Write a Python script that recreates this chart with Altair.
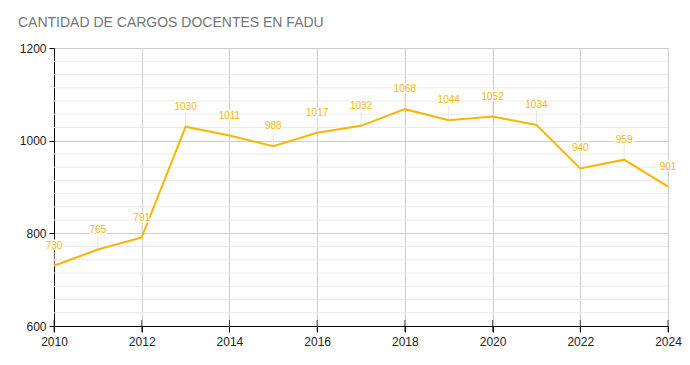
import altair as alt
import pandas as pd

years = [2010, 2011, 2012, 2013, 2014, 2015, 2016, 2017, 2018, 2019, 2020, 2021, 2022, 2023, 2024]
cargos = [730, 765, 791, 1030, 1011, 988, 1017, 1032, 1068, 1044, 1052, 1034, 940, 959, 901]
x_ticks = [2010, 2012, 2014, 2016, 2018, 2020, 2022, 2024]
y_major = [600, 800, 1000, 1200]
y_minor = [600 + (i * 200) / 7 for i in range(22) if i % 7 != 0]

df = pd.DataFrame({"year": years, "cargos": cargos})
tick_df = pd.DataFrame({"year": x_ticks})
minor_df = pd.DataFrame({"v": y_minor})

GOLD = "#F9B600"
FONT = "Liberation Sans"

x = alt.X("year:Q", scale=alt.Scale(domain=[2010, 2024], nice=False, zero=False),
          axis=alt.Axis(values=x_ticks, format="d", title=None, grid=True,
                        gridColor="#cccccc", domainColor="black", tickColor="black",
                        tickSize=6, labelFontSize=12, labelColor="#222222",
                        labelFont=FONT, labelPadding=4, labelFlush=False))
y = alt.Y("cargos:Q", scale=alt.Scale(domain=[600, 1200], nice=False, zero=False),
          axis=alt.Axis(values=y_major, format="d", title=None, grid=True,
                        gridColor="#cccccc", tickColor="black", domainColor="black",
                        tickSize=5, labelFontSize=12, labelColor="#222222",
                        labelFont=FONT, labelPadding=3, labelFlush=False,
                        labelOverlap=False))

base = alt.Chart(df)

minor = alt.Chart(minor_df).mark_rule(color="#ebebeb", strokeWidth=1).encode(
    y=alt.Y("v:Q", scale=alt.Scale(domain=[600, 1200], nice=False, zero=False)))

line = base.mark_line(color=GOLD, strokeWidth=2).encode(x=x, y=y)

stems = base.mark_rule(color="#e6e6e6", strokeWidth=1, y2Offset=-14).encode(
    x="year:Q", y="cargos:Q", y2="cargos:Q")

halo = base.mark_text(dy=-20, fontSize=10, font=FONT, color="white",
                      stroke="white", strokeWidth=3, baseline="middle").encode(
    x="year:Q", y="cargos:Q", text="cargos:Q")
labels = base.mark_text(dy=-20, fontSize=10, font=FONT, color=GOLD,
                        baseline="middle").encode(
    x="year:Q", y="cargos:Q", text="cargos:Q")

inner_ticks = alt.Chart(tick_df).mark_tick(orient="vertical", size=12, thickness=1,
                                           color="black").encode(
    x="year:Q", y=alt.datum(600))

chart = alt.layer(minor, stems, line, halo, labels, inner_ticks).resolve_axis(
    y="shared").properties(
    width=614, height=278,
    autosize=alt.AutoSizeParams(type="none"),
    padding={"left": 46, "top": 40, "right": 14, "bottom": 30},
    title=alt.TitleParams("CANTIDAD DE CARGOS DOCENTES EN FADU", anchor="start",
                          frame="group", dx=-36, dy=-8, fontSize=14, font=FONT,
                          fontWeight="normal", color="#757575"),
).configure_view(stroke=None)

chart.save("out.html", embed_options={"renderer": "svg", "actions": False})
